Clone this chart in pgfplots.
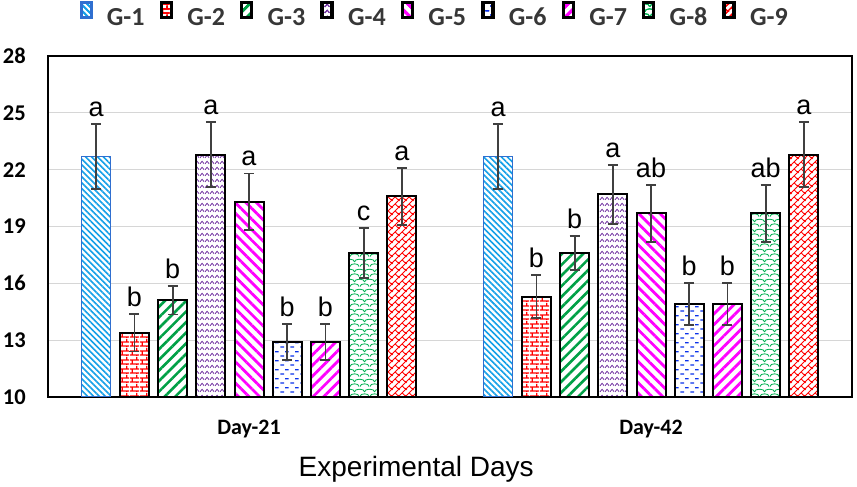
\documentclass[border=0pt]{standalone}
\usepackage{pgfplots}
\pgfplotsset{compat=1.18}
\usepackage{pgfplotstable}
\usetikzlibrary{patterns,patterns.meta}
\usepackage{fontspec}
\newfontfamily\calibri{Carlito}
\newfontfamily\arial{Liberation Sans}

\definecolor{cA}{RGB}{20,160,232}
\definecolor{cAb}{RGB}{47,111,208}
\definecolor{cB}{RGB}{255,0,0}
\definecolor{cC}{RGB}{0,160,70}
\definecolor{cD}{RGB}{112,48,160}
\definecolor{cE}{RGB}{255,0,255}
\definecolor{cF}{RGB}{10,50,235}
\definecolor{cH}{RGB}{0,176,80}
\definecolor{cI}{RGB}{255,0,0}
\definecolor{errc}{RGB}{64,64,64}
\definecolor{legt}{RGB}{55,55,55}

\pgfdeclarepatternformonly{hbricks}{\pgfqpoint{0pt}{0pt}}{\pgfqpoint{10pt}{8.6pt}}{\pgfqpoint{10pt}{8.6pt}}{
  \pgfsetlinewidth{1.4pt}
  \pgfpathmoveto{\pgfqpoint{0pt}{1pt}}\pgfpathlineto{\pgfqpoint{10pt}{1pt}}
  \pgfpathmoveto{\pgfqpoint{0pt}{5.3pt}}\pgfpathlineto{\pgfqpoint{10pt}{5.3pt}}
  \pgfpathmoveto{\pgfqpoint{2.5pt}{1pt}}\pgfpathlineto{\pgfqpoint{2.5pt}{5.3pt}}
  \pgfpathmoveto{\pgfqpoint{7.5pt}{5.3pt}}\pgfpathlineto{\pgfqpoint{7.5pt}{8.6pt}}
  \pgfpathmoveto{\pgfqpoint{7.5pt}{0pt}}\pgfpathlineto{\pgfqpoint{7.5pt}{1pt}}
  \pgfusepath{stroke}
}
\pgfdeclarepatternformonly{zigzag}{\pgfqpoint{0pt}{0pt}}{\pgfqpoint{5pt}{5.5pt}}{\pgfqpoint{5pt}{5.5pt}}{
  \pgfsetlinewidth{0.9pt}
  \pgfpathmoveto{\pgfqpoint{0pt}{1.3pt}}\pgfpathlineto{\pgfqpoint{2.5pt}{4pt}}\pgfpathlineto{\pgfqpoint{5pt}{1.3pt}}
  \pgfusepath{stroke}
}
\pgfdeclarepatternformonly{hdashes}{\pgfqpoint{0pt}{0pt}}{\pgfqpoint{10pt}{9.4pt}}{\pgfqpoint{10pt}{9.4pt}}{
  \pgfsetlinewidth{1.3pt}
  \pgfpathmoveto{\pgfqpoint{0.5pt}{2pt}}\pgfpathlineto{\pgfqpoint{4.5pt}{2pt}}
  \pgfpathmoveto{\pgfqpoint{5.5pt}{6.7pt}}\pgfpathlineto{\pgfqpoint{9.5pt}{6.7pt}}
  \pgfusepath{stroke}
}
\pgfdeclarepatternformonly{shingle}{\pgfqpoint{0pt}{0pt}}{\pgfqpoint{10pt}{10pt}}{\pgfqpoint{10pt}{10pt}}{
  \pgfsetlinewidth{0.9pt}
  \pgfpathmoveto{\pgfqpoint{0pt}{0.5pt}}\pgfpathcurveto{\pgfqpoint{0pt}{4.5pt}}{\pgfqpoint{10pt}{4.5pt}}{\pgfqpoint{10pt}{0.5pt}}
  \pgfpathmoveto{\pgfqpoint{-5pt}{5.5pt}}\pgfpathcurveto{\pgfqpoint{-5pt}{9.5pt}}{\pgfqpoint{5pt}{9.5pt}}{\pgfqpoint{5pt}{5.5pt}}
  \pgfpathmoveto{\pgfqpoint{5pt}{5.5pt}}\pgfpathcurveto{\pgfqpoint{5pt}{9.5pt}}{\pgfqpoint{15pt}{9.5pt}}{\pgfqpoint{15pt}{5.5pt}}
  \pgfusepath{stroke}
}
\pgfdeclarepatternformonly{dbricks}{\pgfqpoint{0pt}{0pt}}{\pgfqpoint{7pt}{7pt}}{\pgfqpoint{7pt}{7pt}}{
  \pgfsetlinewidth{1pt}
  \pgfpathmoveto{\pgfqpoint{-1pt}{-1pt}}\pgfpathlineto{\pgfqpoint{8pt}{8pt}}
  \pgfpathmoveto{\pgfqpoint{3.5pt}{3.5pt}}\pgfpathlineto{\pgfqpoint{7.5pt}{-0.5pt}}
  \pgfpathmoveto{\pgfqpoint{6pt}{-1pt}}\pgfpathlineto{\pgfqpoint{8pt}{1pt}}
  \pgfpathmoveto{\pgfqpoint{-1pt}{6pt}}\pgfpathlineto{\pgfqpoint{1pt}{8pt}}
  \pgfusepath{stroke}
}

\pgfplotsset{
  myleg/.style 2 args={legend image code/.code={%
      \fill[#1] (-0.7pt,-0.7pt) rectangle (10.7pt,15.7pt);
      \fill[white] (0.7pt,0.7pt) rectangle (9.3pt,14.3pt);
      \path[#2] (0.7pt,0.7pt) rectangle (9.3pt,14.3pt);
      \path (23pt,0pt);}},
  myerr/.style={error bars/.cd, y dir=both, y explicit,
     error bar style={line width=1.8pt, color=errc},
     error mark options={rotate=90, mark size=5pt, line width=1.8pt, color=errc}},
  mylab/.style={draw=none, fill=none, forget plot, bar shift=#1,
     nodes near coords, point meta=explicit symbolic,
     every node near coord/.append style={anchor=base, yshift=7.5pt, inner sep=0pt,
        font=\arial\fontsize{27}{30}\selectfont, text=black}},
}

\pgfplotstableread{
x y err top lab
0 22.7 1.7 24.4 a
1 22.7 1.7 24.4 a
}\gA
\pgfplotstableread{
x y err top lab
0 13.4 1.0 14.4 b
1 15.3 1.15 16.45 b
}\gB
\pgfplotstableread{
x y err top lab
0 15.1 0.75 15.85 b
1 17.6 0.9 18.5 b
}\gC
\pgfplotstableread{
x y err top lab
0 22.8 1.7 24.5 a
1 20.7 1.55 22.25 a
}\gD
\pgfplotstableread{
x y err top lab
0 20.3 1.5 21.8 a
1 19.7 1.5 21.2 ab
}\gE
\pgfplotstableread{
x y err top lab
0 12.9 0.95 13.85 b
1 14.9 1.1 16.0 b
}\gF
\pgfplotstableread{
x y err top lab
0 12.9 0.95 13.85 b
1 14.9 1.1 16.0 b
}\gG
\pgfplotstableread{
x y err top lab
0 17.6 1.3 18.9 c
1 19.7 1.5 21.2 ab
}\gH
\pgfplotstableread{
x y err top lab
0 20.6 1.5 22.1 a
1 22.8 1.7 24.5 a
}\gI

\begin{document}
\begin{tikzpicture}
\useasboundingbox (0,0) rectangle (857pt,487pt);
\begin{axis}[
  at={(48pt,90pt)}, anchor=south west,
  x=402pt, y=18.944pt,
  xmin=-0.5, xmax=1.5, ymin=10, ymax=28,
  ybar, bar width=29pt,
  xtick={0,1}, xticklabels={Day-21,Day-42},
  ytick={10,13,16,19,22,25,28},
  major tick length=0pt,
  ymajorgrids, major grid style={line width=1.3pt, color=black!16},
  axis line style={line width=1.5pt, black},
  /pgf/number format/assume math mode=true,
  yticklabel style={font=\calibri\bfseries\fontsize{22.5}{24}\selectfont, anchor=east, inner sep=0pt, xshift=-22pt},
  xticklabel style={font=\calibri\bfseries\fontsize{22}{24}\selectfont, anchor=base, inner sep=0pt, yshift=-38pt},
  xlabel={Experimental Days},
  xlabel style={font=\arial\fontsize{28}{30}\selectfont, at={(rel axis cs:0.458,0)}, anchor=base, inner sep=0pt, yshift=-80pt},
  legend columns=9,
  legend style={at={(0.481,1)}, anchor=center, yshift=41pt, draw=none, fill=none,
     font=\calibri\bfseries\fontsize{26}{28}\selectfont, text=legt,
     nodes={inner sep=2pt},
     /tikz/every even column/.append style={column sep=13pt}},
  every axis plot/.append style={fill=white},
]
\addplot[myleg={cAb}{pattern={Lines[angle=-45,distance=4.2pt,line width=1.6pt]}, pattern color=cA},
  bar shift=-152.8pt, draw=cAb, line width=1.5pt, fill=white,
  postaction={pattern={Lines[angle=-45,distance=4.2pt,line width=1.6pt]}, pattern color=cA}, myerr]
  table[x=x,y=y,y error=err]{\gA};
\addlegendentry{G-1}
\addplot[myleg={black}{pattern=hbricks, pattern color=cB},
  bar shift=-114.6pt, draw=black, line width=2pt, fill=white,
  postaction={pattern=hbricks, pattern color=cB}, myerr]
  table[x=x,y=y,y error=err]{\gB};
\addlegendentry{G-2}
\addplot[myleg={black}{pattern={Lines[angle=45,distance=7.5pt,line width=2.6pt]}, pattern color=cC},
  bar shift=-76.4pt, draw=black, line width=2pt, fill=white,
  postaction={pattern={Lines[angle=45,distance=7.5pt,line width=2.6pt]}, pattern color=cC}, myerr]
  table[x=x,y=y,y error=err]{\gC};
\addlegendentry{G-3}
\addplot[myleg={black}{pattern=zigzag, pattern color=cD},
  bar shift=-38.2pt, draw=black, line width=2pt, fill=white,
  postaction={pattern=zigzag, pattern color=cD}, myerr]
  table[x=x,y=y,y error=err]{\gD};
\addlegendentry{G-4}
\addplot[myleg={black}{pattern={Lines[angle=-45,distance=7.5pt,line width=2.8pt]}, pattern color=cE},
  bar shift=0pt, draw=black, line width=2pt, fill=white,
  postaction={pattern={Lines[angle=-45,distance=7.5pt,line width=2.8pt]}, pattern color=cE}, myerr]
  table[x=x,y=y,y error=err]{\gE};
\addlegendentry{G-5}
\addplot[myleg={black}{pattern=hdashes, pattern color=cF},
  bar shift=38.2pt, draw=black, line width=2pt, fill=white,
  postaction={pattern=hdashes, pattern color=cF}, myerr]
  table[x=x,y=y,y error=err]{\gF};
\addlegendentry{G-6}
\addplot[myleg={black}{pattern={Lines[angle=45,distance=7.5pt,line width=2.8pt]}, pattern color=cE},
  bar shift=76.4pt, draw=black, line width=2pt, fill=white,
  postaction={pattern={Lines[angle=45,distance=7.5pt,line width=2.8pt]}, pattern color=cE}, myerr]
  table[x=x,y=y,y error=err]{\gG};
\addlegendentry{G-7}
\addplot[myleg={black}{pattern=shingle, pattern color=cH},
  bar shift=114.6pt, draw=black, line width=2pt, fill=white,
  postaction={pattern=shingle, pattern color=cH}, myerr]
  table[x=x,y=y,y error=err]{\gH};
\addlegendentry{G-8}
\addplot[myleg={black}{pattern=dbricks, pattern color=cI},
  bar shift=152.8pt, draw=black, line width=2pt, fill=white,
  postaction={pattern=dbricks, pattern color=cI}, myerr]
  table[x=x,y=y,y error=err]{\gI};
\addlegendentry{G-9}

\addplot[mylab=-152.8pt] table[x=x,y=top,meta=lab]{\gA};
\addplot[mylab=-114.6pt] table[x=x,y=top,meta=lab]{\gB};
\addplot[mylab=-76.4pt] table[x=x,y=top,meta=lab]{\gC};
\addplot[mylab=-38.2pt] table[x=x,y=top,meta=lab]{\gD};
\addplot[mylab=0pt] table[x=x,y=top,meta=lab]{\gE};
\addplot[mylab=38.2pt] table[x=x,y=top,meta=lab]{\gF};
\addplot[mylab=76.4pt] table[x=x,y=top,meta=lab]{\gG};
\addplot[mylab=114.6pt] table[x=x,y=top,meta=lab]{\gH};
\addplot[mylab=152.8pt] table[x=x,y=top,meta=lab]{\gI};
\end{axis}
\end{tikzpicture}
\end{document}
